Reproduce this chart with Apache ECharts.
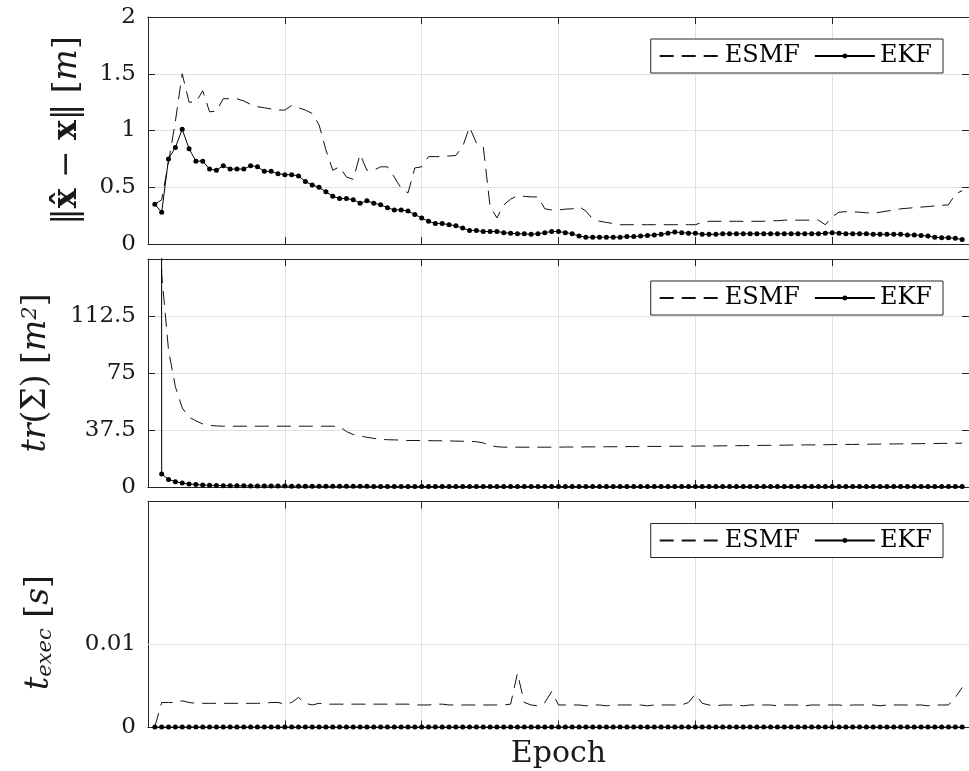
<!DOCTYPE html>
<html><head><meta charset="utf-8">
<script src="https://cdn.jsdelivr.net/npm/echarts@6/dist/echarts.min.js"></script>
<style>html,body{margin:0;padding:0;background:#fff}#c{width:969px;height:771px}</style>
</head><body><div id="c"></div>
<script>
// ---------- data (epochs 1..119) ----------
const seriesNames = ['ESMF', 'EKF'];
const xTicks = [0, 20, 40, 60, 80, 100, 120];
const errTicks = [0, 0.5, 1, 1.5, 2];
const covTicks = [0, 37.5, 75, 112.5];
const timeTicks = [0, 0.01];

const errESMF = [
  0.35, 0.39, 0.72, 1.08, 1.50, 1.25, 1.25, 1.35, 1.165, 1.17,
  1.28, 1.28, 1.28, 1.26, 1.23, 1.21, 1.20, 1.19, 1.18, 1.18,
  1.22, 1.20, 1.18, 1.15, 1.05, 0.83, 0.65, 0.68, 0.59, 0.57,
  0.79, 0.65, 0.65, 0.68, 0.68, 0.59, 0.49, 0.45, 0.67, 0.68,
  0.77, 0.77, 0.77, 0.775, 0.78, 0.86, 1.03, 0.89, 0.86, 0.33,
  0.23, 0.345, 0.395, 0.425, 0.42, 0.415, 0.415, 0.31, 0.30, 0.30,
  0.307, 0.31, 0.33, 0.29, 0.22, 0.20, 0.19, 0.18, 0.17, 0.17,
  0.17, 0.17, 0.17, 0.17, 0.17, 0.17, 0.17, 0.17, 0.17, 0.17,
  0.19, 0.20, 0.20, 0.20, 0.20, 0.20, 0.20, 0.20, 0.20, 0.20,
  0.205, 0.205, 0.21, 0.21, 0.21, 0.21, 0.21, 0.21, 0.17, 0.24,
  0.28, 0.285, 0.285, 0.28, 0.275, 0.27, 0.28, 0.29, 0.30, 0.31,
  0.315, 0.32, 0.325, 0.33, 0.335, 0.34, 0.345, 0.44, 0.47
];
const errEKF = [
  0.35, 0.28, 0.75, 0.85, 1.01, 0.84, 0.73, 0.73, 0.66, 0.65,
  0.69, 0.66, 0.66, 0.66, 0.69, 0.68, 0.64, 0.64, 0.62, 0.61,
  0.61, 0.60, 0.55, 0.52, 0.50, 0.46, 0.42, 0.40, 0.40, 0.39,
  0.36, 0.38, 0.36, 0.345, 0.32, 0.30, 0.30, 0.29, 0.26, 0.23,
  0.20, 0.18, 0.18, 0.17, 0.16, 0.14, 0.12, 0.12, 0.11, 0.11,
  0.11, 0.10, 0.095, 0.09, 0.09, 0.085, 0.09, 0.10, 0.11, 0.11,
  0.10, 0.09, 0.07, 0.06, 0.06, 0.06, 0.06, 0.06, 0.06, 0.065,
  0.065, 0.07, 0.075, 0.08, 0.085, 0.095, 0.105, 0.10, 0.095, 0.095,
  0.085, 0.085, 0.085, 0.09, 0.09, 0.09, 0.09, 0.09, 0.09, 0.09,
  0.09, 0.09, 0.09, 0.09, 0.09, 0.09, 0.09, 0.09, 0.095, 0.10,
  0.095, 0.09, 0.09, 0.09, 0.09, 0.085, 0.085, 0.085, 0.085, 0.085,
  0.08, 0.08, 0.075, 0.07, 0.06, 0.055, 0.055, 0.05, 0.04
];
const covESMF = [
  10000, 140, 90, 66, 52, 46, 43.5, 41.5, 40.5, 40.2,
  40, 40, 40, 40, 40, 40, 40, 40, 40, 40,
  40, 40, 40, 40, 40, 40, 40, 39.8, 36.5, 34.5,
  33.5, 32.7, 32, 31.4, 31.1, 31, 30.8, 30.6, 30.6, 30.5,
  30.5, 30.4, 30.4, 30.3, 30.2, 30.1, 30.0, 29.8, 29.0, 27.2,
  26.5, 26.2, 26.2, 26.2, 26.2, 26.2, 26.2, 26.2, 26.2, 26.2,
  26.3, 26.3, 26.3, 26.4, 26.4, 26.4, 26.5, 26.5, 26.5, 26.6,
  26.6, 26.6, 26.7, 26.7, 26.7, 26.8, 26.8, 26.8, 26.9, 26.9,
  27.0, 27.0, 27.0, 27.1, 27.1, 27.2, 27.2, 27.3, 27.3, 27.4,
  27.4, 27.5, 27.5, 27.6, 27.6, 27.7, 27.7, 27.8, 27.8, 27.9,
  28.0, 28.0, 28.0, 28.1, 28.1, 28.2, 28.2, 28.3, 28.3, 28.4,
  28.4, 28.5, 28.5, 28.6, 28.6, 28.7, 28.7, 28.8, 28.8
];
const covEKF = [
  10000, 8.6, 5.0, 3.5, 2.6, 2.0, 1.6, 1.3, 1.1, 1.0,
  0.9, 0.85, 0.8, 0.75, 0.7, 0.68, 0.65, 0.62, 0.6, 0.58,
  0.56, 0.54, 0.52, 0.5, 0.49, 0.48, 0.47, 0.46, 0.45, 0.44,
  0.43, 0.42, 0.41, 0.4, 0.4, 0.39, 0.38, 0.38, 0.37, 0.37,
  0.36, 0.36, 0.35, 0.35, 0.35, 0.34, 0.34, 0.34, 0.33, 0.33,
  0.33, 0.33, 0.32, 0.32, 0.32, 0.32, 0.31, 0.31, 0.31, 0.31,
  0.3, 0.3, 0.3, 0.3, 0.3, 0.3, 0.3, 0.3, 0.3, 0.3,
  0.3, 0.3, 0.3, 0.3, 0.3, 0.3, 0.3, 0.3, 0.3, 0.3,
  0.3, 0.3, 0.3, 0.3, 0.3, 0.3, 0.3, 0.3, 0.3, 0.3,
  0.3, 0.3, 0.3, 0.3, 0.3, 0.3, 0.3, 0.3, 0.3, 0.3,
  0.3, 0.3, 0.3, 0.3, 0.3, 0.3, 0.3, 0.3, 0.3, 0.3,
  0.3, 0.3, 0.3, 0.3, 0.3, 0.3, 0.3, 0.3, 0.3
];
const timeESMF = [
  0.0001, 0.0030, 0.0030, 0.0030, 0.0032, 0.0030, 0.0029, 0.0029, 0.0029, 0.0029,
  0.0029, 0.0029, 0.0029, 0.0029, 0.0029, 0.0029, 0.0029, 0.0030, 0.0030, 0.0028,
  0.0030, 0.0036, 0.0029, 0.0027, 0.0029, 0.0028, 0.0028, 0.0028, 0.0028, 0.0028,
  0.0028, 0.0028, 0.0028, 0.0028, 0.0028, 0.0028, 0.0028, 0.0028, 0.0027, 0.0027,
  0.0027, 0.0028, 0.0028, 0.0027, 0.0027, 0.0027, 0.0027, 0.0027, 0.0027, 0.0027,
  0.0027, 0.0027, 0.0028, 0.0065, 0.0030, 0.0027, 0.0026, 0.0030, 0.0043, 0.0027,
  0.0027, 0.0027, 0.0027, 0.0026, 0.0027, 0.0027, 0.0026, 0.0027, 0.0027, 0.0027,
  0.0027, 0.0027, 0.0026, 0.0027, 0.0027, 0.0027, 0.0027, 0.0027, 0.0030, 0.0040,
  0.0029, 0.0027, 0.0026, 0.0027, 0.0027, 0.0027, 0.0026, 0.0027, 0.0027, 0.0027,
  0.0027, 0.0026, 0.0027, 0.0027, 0.0027, 0.0026, 0.0027, 0.0027, 0.0027, 0.0027,
  0.0027, 0.0026, 0.0027, 0.0027, 0.0027, 0.0027, 0.0026, 0.0027, 0.0027, 0.0027,
  0.0027, 0.0027, 0.0027, 0.0026, 0.0027, 0.0027, 0.0027, 0.0036, 0.0048
];
const timeEKF = [
  0.00005, 0.00005, 0.00005, 0.00005, 0.00005, 0.00005, 0.00005, 0.00005, 0.00005, 0.00005,
  0.00005, 0.00005, 0.00005, 0.00005, 0.00005, 0.00005, 0.00005, 0.00005, 0.00005, 0.00005,
  0.00005, 0.00005, 0.00005, 0.00005, 0.00005, 0.00005, 0.00005, 0.00005, 0.00005, 0.00005,
  0.00005, 0.00005, 0.00005, 0.00005, 0.00005, 0.00005, 0.00005, 0.00005, 0.00005, 0.00005,
  0.00005, 0.00005, 0.00005, 0.00005, 0.00005, 0.00005, 0.00005, 0.00005, 0.00005, 0.00005,
  0.00005, 0.00005, 0.00005, 0.00005, 0.00005, 0.00005, 0.00005, 0.00005, 0.00005, 0.00005,
  0.00005, 0.00005, 0.00005, 0.00005, 0.00005, 0.00005, 0.00005, 0.00005, 0.00005, 0.00005,
  0.00005, 0.00005, 0.00005, 0.00005, 0.00005, 0.00005, 0.00005, 0.00005, 0.00005, 0.00005,
  0.00005, 0.00005, 0.00005, 0.00005, 0.00005, 0.00005, 0.00005, 0.00005, 0.00005, 0.00005,
  0.00005, 0.00005, 0.00005, 0.00005, 0.00005, 0.00005, 0.00005, 0.00005, 0.00005, 0.00005,
  0.00005, 0.00005, 0.00005, 0.00005, 0.00005, 0.00005, 0.00005, 0.00005, 0.00005, 0.00005,
  0.00005, 0.00005, 0.00005, 0.00005, 0.00005, 0.00005, 0.00005, 0.00005, 0.00005
];
const epochs = errESMF.map((_, k) => k + 1);

// ---------- styling ----------
const AX = '#262626', GRIDC = '#e0e0e0', TXT = '#1a1a1a';
const FONT = 'DejaVu Serif';
const grids = [
  { left: 148, width: 822, top: 17, height: 227 },
  { left: 148, width: 822, top: 259, height: 228 },
  { left: 148, width: 822, top: 501.5, height: 226 }
];
const NF = 33;
const nameRich = {
  n: { fontFamily: FONT, fontSize: NF, color: TXT },
  b: { fontFamily: FONT, fontSize: NF, fontWeight: 'bold', color: TXT },
  i: { fontFamily: FONT, fontSize: NF, fontStyle: 'italic', color: TXT },
  sup: { fontFamily: FONT, fontSize: 21, fontStyle: 'italic', color: TXT, verticalAlign: 'top' },
  sub: { fontFamily: FONT, fontSize: 21, fontStyle: 'italic', color: TXT, verticalAlign: 'bottom' }
};

function xAx(g, pos, name) {
  return {
    type: 'value', gridIndex: g, position: pos,
    min: xTicks[0], max: xTicks[xTicks.length - 1], interval: xTicks[1] - xTicks[0],
    axisLine: { show: true, onZero: false, lineStyle: { color: AX, width: 1 } },
    axisTick: { show: true, inside: true, length: 7, lineStyle: { color: AX } },
    axisLabel: { show: false },
    splitLine: { show: pos === 'bottom', lineStyle: { color: GRIDC, width: 1 } },
    name: name || '', nameLocation: 'middle', nameGap: 12,
    nameTextStyle: { fontFamily: FONT, fontSize: 30, color: TXT }
  };
}
function yAx(g, pos, cfg) {
  const left = pos === 'left';
  const ax = {
    type: 'value', gridIndex: g, position: pos,
    min: cfg.min, max: cfg.max,
    axisLine: { show: true, onZero: false, lineStyle: { color: AX, width: 1 } },
    axisTick: { show: true, inside: true, length: 7, lineStyle: { color: AX } },
    axisLabel: {
      show: left, margin: 12, fontFamily: FONT, fontSize: 23, color: TXT,
      formatter: v => (cfg.labels.indexOf(v) >= 0 ? String(v) : '')
    },
    splitLine: { show: left && !cfg.custom, lineStyle: { color: GRIDC, width: 1 } }
  };
  if (cfg.custom) {
    ax.axisLabel.customValues = cfg.labels;
    ax.axisTick.customValues = cfg.labels;
  } else {
    ax.interval = cfg.interval;
  }
  if (left) {
    ax.name = cfg.name; ax.nameLocation = 'middle'; ax.nameRotate = 90; ax.nameGap = cfg.gap;
    ax.nameTextStyle = { rich: nameRich, padding: cfg.pad || 0 };
  }
  return ax;
}
const yCfg = [
  { min: 0, max: 2, interval: 0.5, labels: errTicks, gap: 64,
    name: '{n|‖}{b|x̂}{n| − }{b|x}{n|‖ [}{i|m}{n|]}' },
  { min: 0, max: 150, interval: 37.5, labels: covTicks, gap: 95,
    name: '{i|tr}{n|(Σ) [}{i|m}{sup|2}{n|]}' },
  { min: 0, max: 0.0271, labels: timeTicks, custom: true, gap: 92, pad: [0, 36, 0, 0],
    name: '{i|t}{sub|exec}{n| [}{i|s}{n|]}' }
];

const xAxes = [], yAxes = [];
grids.forEach((gr, g) => {
  xAxes.push(xAx(g, 'bottom', g === 2 ? 'Epoch' : ''));
  xAxes.push(xAx(g, 'top'));
  yAxes.push(yAx(g, 'left', yCfg[g]));
  yAxes.push(yAx(g, 'right', yCfg[g]));
});

function pairs(arr) { return epochs.map((e, k) => [e, arr[k]]); }
function esmf(g, arr, extra) {
  const s = {
    name: seriesNames[0], type: 'line', xAxisIndex: 2 * g, yAxisIndex: 2 * g,
    data: pairs(arr), symbol: 'none', clip: true, z: 3,
    lineStyle: { color: '#111', width: 1, type: [14, 8] },
    itemStyle: { color: '#111' }, emphasis: { disabled: true }
  };
  return Object.assign(s, extra || {});
}
function ekf(g, arr) {
  return {
    name: seriesNames[1], type: 'line', xAxisIndex: 2 * g, yAxisIndex: 2 * g,
    data: pairs(arr), symbol: 'circle', symbolSize: 5, showSymbol: true, clip: true, z: 4,
    lineStyle: { color: '#000', width: 1 }, itemStyle: { color: '#000' },
    emphasis: { disabled: true }
  };
}
const series = [
  esmf(0, errESMF), ekf(0, errEKF),
  esmf(1, covESMF), ekf(1, covEKF),
  esmf(2, timeESMF, {
    markLine: {
      silent: true, symbol: 'none', label: { show: false },
      lineStyle: { color: GRIDC, width: 1, type: 'solid' },
      data: [{ yAxis: timeTicks[1] }]
    }
  }),
  ekf(2, timeEKF)
];

const legends = grids.map(gr => ({
  top: gr.top + 22, right: 26, orient: 'horizontal',
  data: [{ name: seriesNames[0], itemStyle: { opacity: 0 } }, { name: seriesNames[1] }],
  itemWidth: 60, itemHeight: 6, itemGap: 14,
  textStyle: { fontFamily: FONT, fontSize: 24, color: '#000' },
  borderColor: AX, borderWidth: 1, borderRadius: 0,
  padding: [5, 11, 5, 8], backgroundColor: '#fff', selectedMode: false
}));

const chart = echarts.init(document.getElementById('c'), null, { renderer: 'canvas' });
chart.setOption({
  animation: false,
  backgroundColor: '#fff',
  grid: grids,
  xAxis: xAxes,
  yAxis: yAxes,
  legend: legends,
  series: series
});
</script></body></html>
